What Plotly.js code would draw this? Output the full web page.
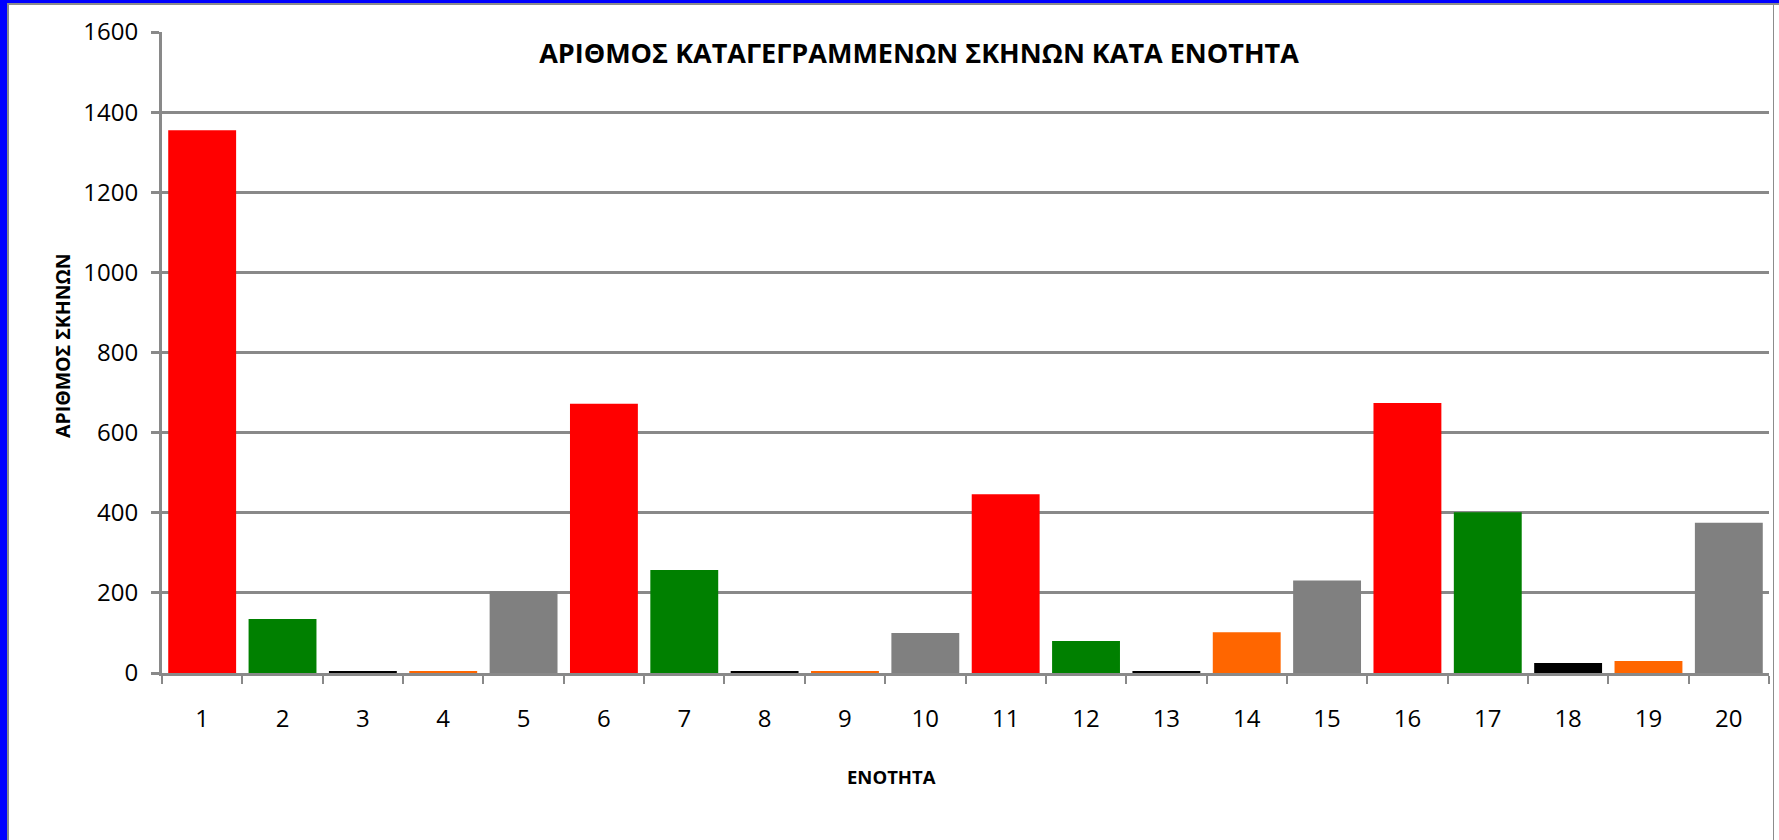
<!DOCTYPE html>
<html>
<head>
<meta charset="utf-8">
<script src="https://cdn.plot.ly/plotly-3.0.1.min.js"></script>
<style>
  html, body { margin: 0; padding: 0; background: #fff; }
  #wrap { position: relative; width: 1779px; height: 840px; overflow: hidden; }
  #chart { position: absolute; left: 0; top: 0; width: 1779px; height: 840px; }
  .edge { position: absolute; pointer-events: none; }
</style>
</head>
<body>
<div id="wrap">
  <div id="chart"></div>
  <div class="edge" style="left:0;top:0;width:1779px;height:3px;background:#0000ff;"></div>
  <div class="edge" style="left:0;top:3px;width:1779px;height:2px;background:#8c8c8c;"></div>
  <div class="edge" style="left:0;top:0;width:7px;height:840px;background:#0000ff;"></div>
  <div class="edge" style="left:7px;top:3px;width:2px;height:837px;background:#8c8c8c;"></div>
  <div class="edge" style="left:1773px;top:3px;width:1px;height:837px;background:#8c8c8c;"></div>
</div>
<script>
// ΑΡΙΘΜΟΣ ΚΑΤΑΓΕΓΡΑΜΜΕΝΩΝ ΣΚΗΝΩΝ ΚΑΤΑ ΕΝΟΤΗΤΑ
const categories = ['1', '2', '3', '4', '5', '6', '7', '8', '9', '10',
                    '11', '12', '13', '14', '15', '16', '17', '18', '19', '20'];
const counts = [1355, 135, 5, 5, 204, 672, 257, 5, 5, 100,
                446, 80, 5, 102, 231, 674, 401, 25, 30, 375];
const colorCycle = ['#ff0000', '#008000', '#000000', '#ff6600', '#808080'];
const yTicks = [0, 200, 400, 600, 800, 1000, 1200, 1400, 1600];

const chartTitle = 'ΑΡΙΘΜΟΣ ΚΑΤΑΓΕΓΡΑΜΜΕΝΩΝ ΣΚΗΝΩΝ ΚΑΤΑ ΕΝΟΤΗΤΑ';
const xTitle = 'ΕΝΟΤΗΤΑ';
const yTitle = 'ΑΡΙΘΜΟΣ ΣΚΗΝΩΝ';

const W = 1779, H = 840;
const M = { l: 162, r: 10, t: 32, b: 167 };
const plotW = W - M.l - M.r;
const plotH = H - M.t - M.b;
// pixel -> paper helpers for the free-standing labels
const px = x => (x - M.l) / plotW;
const py = y => (H - M.b - y) / plotH;

const FONT = '"Open Sans", "Noto Sans", sans-serif';
const GRID = '#898989';

const trace = {
  type: 'bar',
  x: categories,
  y: counts,
  marker: { color: categories.map((c, i) => colorCycle[i % colorCycle.length]) },
  hoverinfo: 'x+y',
};

const layout = {
  width: W,
  height: H,
  margin: M,
  paper_bgcolor: '#ffffff',
  plot_bgcolor: '#ffffff',
  showlegend: false,
  bargap: 0.155,
  font: { family: FONT, color: '#000000', size: 24 },
  title: {
    text: chartTitle,
    font: { family: FONT, size: 27, weight: 'bold', color: '#000000' },
    xref: 'paper', x: px(919), xanchor: 'center',
    yref: 'container', y: 1 - 54 / H, yanchor: 'middle',
  },
  xaxis: {
    type: 'category',
    showgrid: false,
    showline: true, linecolor: GRID, linewidth: 3,
    ticks: 'outside', tickson: 'boundaries', ticklen: 8, tickwidth: 2, tickcolor: GRID,
    ticklabelstandoff: 22,
    tickfont: { family: FONT, size: 24 },
    fixedrange: true,
  },
  yaxis: {
    range: [0, 1600],
    tickvals: yTicks,
    showgrid: true, gridcolor: GRID, gridwidth: 3,
    zeroline: false,
    showline: true, linecolor: GRID, linewidth: 3,
    ticks: 'outside', ticklen: 8, tickwidth: 3, tickcolor: GRID,
    ticklabelstandoff: 8,
    tickfont: { family: FONT, size: 24 },
    fixedrange: true,
  },
  annotations: [
    {
      text: '<b>' + xTitle + '</b>',
      xref: 'paper', yref: 'paper', x: px(891), y: py(776),
      xanchor: 'center', yanchor: 'middle', showarrow: false,
      font: { family: FONT, size: 18.5 },
    },
    {
      text: '<b>' + yTitle + '</b>',
      xref: 'paper', yref: 'paper', x: px(62), y: py(346),
      xanchor: 'center', yanchor: 'middle', showarrow: false, textangle: -90,
      font: { family: FONT, size: 19.5 },
    },
  ],
};

Plotly.newPlot('chart', [trace], layout, { displayModeBar: false, staticPlot: true });
</script>
</body>
</html>
